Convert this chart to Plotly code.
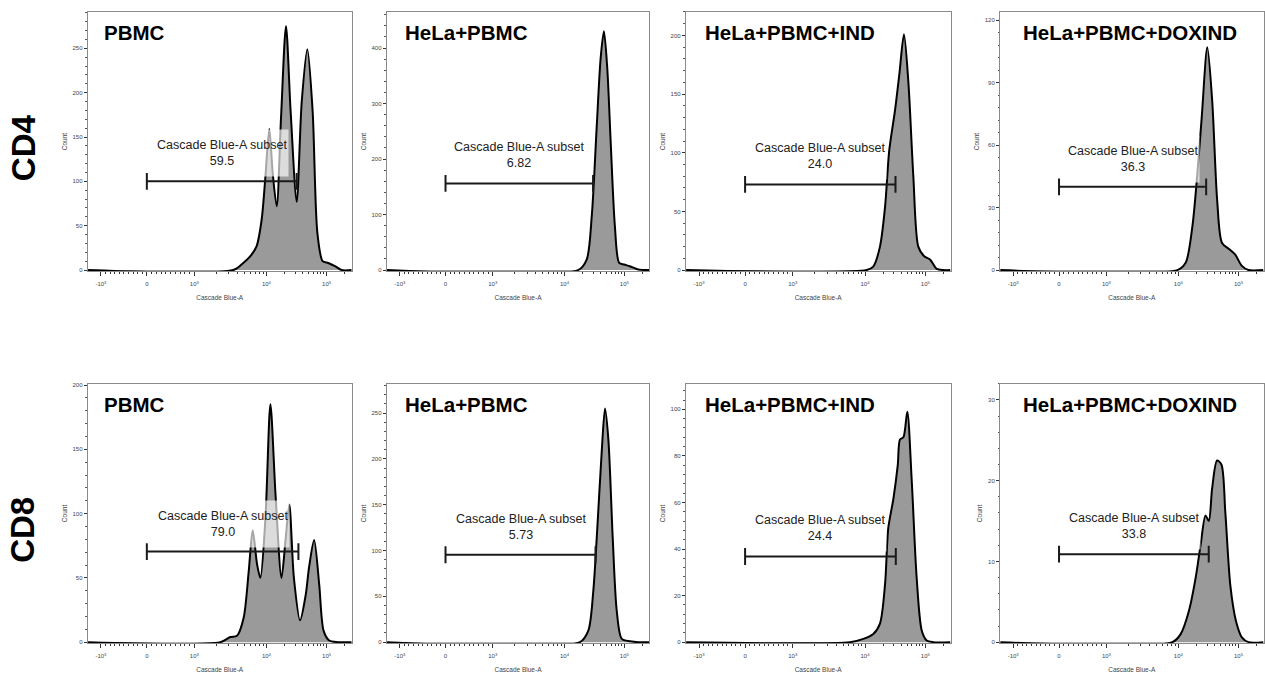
import numpy as np
import plotly.graph_objects as go

# ---------------- data ----------------
ROWS = ["CD4", "CD8"]
SAMPLES = ["PBMC", "HeLa+PBMC", "HeLa+PBMC+IND", "HeLa+PBMC+DOXIND"]
X_TITLE = "Cascade Blue-A"
Y_TITLE = "Count"
GATE_NAME = "Cascade Blue-A subset"

X_TICK_VALUES = [-1000, 0, 1000, 10000, 100000]
X_TICK_TEXT = ["-10<sup>3</sup>", "0", "10<sup>3</sup>", "10<sup>4</sup>", "10<sup>5</sup>"]
X_MINOR_VALUES = ([-900, -800, -700, -600, -500, -400, -300, -200, -100,
                   100, 200, 300, 400, 500, 600, 700, 800, 900]
                  + [2000, 3000, 4000, 5000, 6000, 7000, 8000, 9000]
                  + [20000, 30000, 40000, 50000, 60000, 70000, 80000, 90000, 200000])

# histogram curves: Cascade Blue-A intensity vs count
CD4_PBMC_X = [-1280, 3470, 4770, 6030, 7310, 8590, 9590, 11170, 12730, 14820, 17490, 21130,
              25240, 31820, 38610, 47840, 58590, 70200, 85900, 106400, 138000, 178000, 262144]
CD4_PBMC_Y = [0, 0, 8, 16, 27, 57, 101, 159, 109, 72, 172, 275,
              179, 77, 190, 249, 179, 42, 10, 8, 4.5, 0, 0]

CD4_HELA_X = [-1280, 16900, 23500, 28500, 34500, 40200, 45600, 51800, 59000, 69500, 82000,
              99600, 123600, 170600, 262144]
CD4_HELA_Y = [0, 0, 19, 96, 257, 382, 430, 364, 233, 79, 13, 10, 7, 1, 0]

CD4_IND_X = [-1280, 10700, 13700, 17700, 21500, 25200, 31400, 37100, 44200, 52200, 63200,
             76400, 94800, 119600, 154500, 198600, 262144]
CD4_IND_Y = [0, 0, 3, 20, 54, 102, 136, 167, 201, 161, 80, 20, 12, 9, 1, 0, 0]

CD4_DOX_X = [-1280, 9660, 13200, 17100, 20500, 24400, 30300, 36600, 44200, 53300, 70500,
             88500, 114000, 147000, 262144]
CD4_DOX_Y = [0, 0, 3.5, 21, 45, 73, 107, 81, 33.5, 13, 10, 7.4, 2, 0, 0]

CD8_PBMC_X = [-1280, 2290, 3150, 3910, 4830, 5680, 6450, 7440, 8240, 9680, 11640, 14200,
              17800, 20900, 24000, 28600, 36200, 45000, 51000, 62000, 75300, 89000,
              110600, 152800, 262144]
CD8_PBMC_Y = [0, 0, 4, 5, 19, 55, 87, 60, 50, 96, 185, 114,
              50, 81, 107, 50, 17, 37, 58, 79.5, 45, 9, 1.3, 0, 0]

CD8_HELA_X = [-1280, 18100, 25000, 30300, 35300, 41800, 47500, 54100, 64000, 74700, 90600,
              124800, 172000, 262144]
CD8_HELA_Y = [0, 0, 12.6, 56, 124, 207, 255, 221, 113, 34, 3.6, 1, 0, 0]

CD8_IND_X = [-1280, 6200, 9480, 13700, 17700, 21500, 24300, 29500, 34900, 38000, 43300,
             50200, 59300, 71800, 87100, 105200, 135500, 262144]
CD8_IND_Y = [0, 0, 1.4, 3.5, 8, 25, 49, 61.5, 76, 87, 88, 99, 70, 27.6, 5, 0.7, 0, 0]

CD8_DOX_X = [-1280, 8240, 10900, 15000, 19300, 23400, 28300, 32100, 36400, 44000, 52000,
             60500, 73300, 91000, 114000, 147000, 262144]
CD8_DOX_Y = [0, 0, 1, 3.9, 7.9, 12, 15.7, 15, 19, 22.5, 22, 16, 7, 2.6, 0.6, 0, 0]

CD4_Y_MAX = [291, 465, 220, 124]
CD8_Y_MAX = [201, 282, 111, 32]
CD4_Y_STEP = [50, 100, 50, 30]
CD8_Y_STEP = [50, 50, 20, 10]

GATE_LOW = 0
CD4_GATE_HIGH = [31800, 30000, 32000, 29000]
CD8_GATE_HIGH = [34000, 33000, 32400, 32000]
CD4_GATE_Y = [100, 156, 73, 40]
CD8_GATE_Y = [70.5, 95.4, 36.8, 10.9]
CD4_PCT = ["59.5", "6.82", "24.0", "36.3"]
CD8_PCT = ["79.0", "5.73", "24.4", "33.8"]


# biexponential (logicle-like) display scale of the cytometry axis
def to_axis(values):
    v = np.asarray(values, dtype=float)
    pos = np.empty_like(v)
    neg = v < -1000
    lin = (v >= -1000) & (v <= 1000)
    lg = v > 1000
    pos[neg] = 0.05 + (v[neg] + 1000) * 0.174 / 1000
    pos[lin] = np.interp(v[lin], [-1000, 0, 1000], [0.05, 0.224, 0.404])
    pos[lg] = np.interp(np.log10(v[lg]), [3, 4, 5, np.log10(262144)],
                        [0.404, 0.677, 0.905, 1.0])
    return pos.tolist()


CURVES_X = [[CD4_PBMC_X, CD4_HELA_X, CD4_IND_X, CD4_DOX_X],
            [CD8_PBMC_X, CD8_HELA_X, CD8_IND_X, CD8_DOX_X]]
CURVES_Y = [[CD4_PBMC_Y, CD4_HELA_Y, CD4_IND_Y, CD4_DOX_Y],
            [CD8_PBMC_Y, CD8_HELA_Y, CD8_IND_Y, CD8_DOX_Y]]
Y_MAX = [CD4_Y_MAX, CD8_Y_MAX]
Y_STEP = [CD4_Y_STEP, CD8_Y_STEP]
GATE_HIGH = [CD4_GATE_HIGH, CD8_GATE_HIGH]
GATE_Y = [CD4_GATE_Y, CD8_GATE_Y]
PCT = [CD4_PCT, CD8_PCT]

# ---------------- layout ----------------
W, H = 1265, 679
COL_PX = [(87.7, 351.7), (386.7, 649.3), (685.8, 950.5), (1000, 1263.5)]
ROW_PX = [(10, 270.7), (384, 645)]
TITLE_X = [0.053, 0.063, 0.066, 0.08]
ROW_LABEL_Y = [147, 531]
FONT = "Liberation Sans, Arial, sans-serif"

fig = go.Figure()
layout = dict(
    width=W, height=H, margin=dict(l=0, r=0, t=0, b=0),
    paper_bgcolor="white", plot_bgcolor="white", showlegend=False,
    font=dict(family=FONT, color="#222"),
)
annotations = []

for r in range(2):
    for c in range(4):
        n = r * 4 + c + 1
        xa = "x" if n == 1 else f"x{n}"
        ya = "y" if n == 1 else f"y{n}"
        xs = to_axis(CURVES_X[r][c])
        fig.add_trace(go.Scatter(
            x=xs, y=CURVES_Y[r][c], mode="lines",
            line=dict(color="black", width=2, shape="spline", smoothing=0.8),
            fill="tozeroy", fillcolor="#9a9a9a",
            xaxis=xa, yaxis=ya, hoverinfo="skip"))
        gx = to_axis([GATE_LOW, GATE_HIGH[r][c]])
        gy = GATE_Y[r][c]
        fig.add_trace(go.Scatter(
            x=gx, y=[gy, gy], mode="lines+markers",
            line=dict(color="#1a1a1a", width=2),
            marker=dict(symbol="line-ns", size=12, color="#1a1a1a",
                        line=dict(width=2, color="#1a1a1a")),
            xaxis=xa, yaxis=ya, hoverinfo="skip"))

        x0, x1 = COL_PX[c]
        y0, y1 = ROW_PX[r]
        ymax = Y_MAX[r][c]
        step = Y_STEP[r][c]
        layout["xaxis" if n == 1 else f"xaxis{n}"] = dict(
            domain=[x0 / W, x1 / W], range=[0, 1], anchor=ya,
            tickmode="array", tickvals=to_axis(X_TICK_VALUES), ticktext=X_TICK_TEXT,
            ticks="outside", ticklen=4, tickwidth=1, tickcolor="#333",
            tickfont=dict(size=6, color="#444"), ticklabelstandoff=3,
            showline=True, linecolor="#8a8a8a", linewidth=1, mirror=True,
            showgrid=False, zeroline=False,
            minor=dict(tickvals=to_axis(X_MINOR_VALUES), ticks="outside",
                       ticklen=2, tickcolor="#333", showgrid=False),
            title=dict(text=X_TITLE, font=dict(size=6.5, color="#444"), standoff=9),
            fixedrange=True,
        )
        layout["yaxis" if n == 1 else f"yaxis{n}"] = dict(
            domain=[1 - y1 / H, 1 - y0 / H], range=[-ymax * 0.004, ymax], anchor=xa,
            tickmode="linear", tick0=0, dtick=step,
            ticks="outside", ticklen=3, tickwidth=1, tickcolor="#333",
            tickfont=dict(size=6, color="#444"),
            showline=True, linecolor="#8a8a8a", linewidth=1, mirror=True,
            showgrid=False, zeroline=False,
            minor=dict(dtick=step / 5, ticks="outside", ticklen=1.5,
                       tickcolor="#555", showgrid=False),
            title=dict(text=Y_TITLE, font=dict(size=6.5, color="#444"), standoff=4),
            fixedrange=True,
        )
        # panel title
        annotations.append(dict(
            text=f"<b>{SAMPLES[c]}</b>", xref=f"{xa} domain", yref=f"{ya} domain",
            x=TITLE_X[c], y=0.92, xanchor="left", yanchor="middle",
            showarrow=False, font=dict(size=20.5, color="black", family=FONT)))
        # gate label
        annotations.append(dict(
            text=f"{GATE_NAME}<br>{PCT[r][c]}", xref=xa, yref=ya,
            x=(gx[0] + gx[1]) / 2, y=gy, xanchor="center", yanchor="bottom",
            yshift=4, showarrow=False, align="center", valign="middle",
            height=44, bgcolor="rgba(255,255,255,0.65)", borderpad=1,
            font=dict(size=12.5, color="#222", family=FONT)))

for r in range(2):
    annotations.append(dict(
        text=f"<b>{ROWS[r]}</b>", xref="paper", yref="paper",
        x=23 / W, y=1 - ROW_LABEL_Y[r] / H, xanchor="center", yanchor="middle",
        textangle=-90, showarrow=False,
        font=dict(size=33, color="black", family=FONT)))

layout["annotations"] = annotations
fig.update_layout(**layout)
fig.write_html("out.html")
